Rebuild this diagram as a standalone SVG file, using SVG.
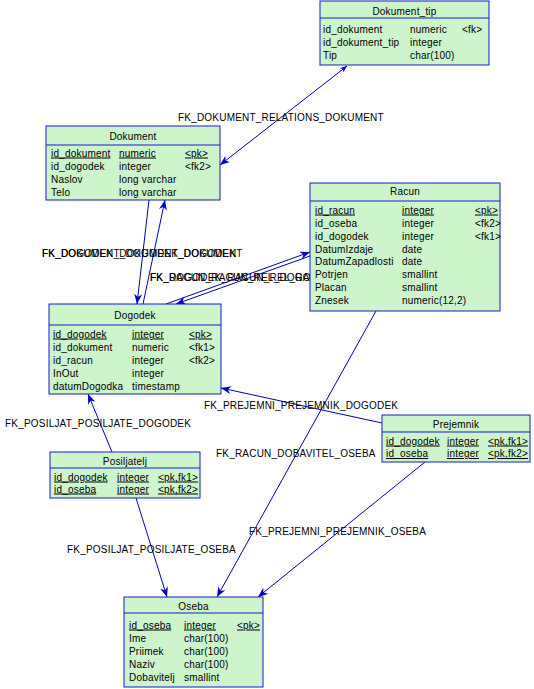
<svg xmlns="http://www.w3.org/2000/svg" width="534" height="689" viewBox="0 0 534 689">
<style>
text{font-family:"Liberation Sans",Arial,sans-serif;font-size:10px;letter-spacing:0.2px;fill:#000}
.box{fill:#ccf5cc;stroke:#1a1acc;stroke-width:1}
.sep{stroke:#1a1acc;stroke-width:1}
.t{text-anchor:middle}
.u{text-decoration:underline}
.c{stroke:#0000a8;stroke-width:1;fill:none}
</style>
<defs>
<marker id="ah" viewBox="0 0 10 8" refX="10" refY="4" markerWidth="10" markerHeight="8" markerUnits="userSpaceOnUse" orient="auto">
<path d="M0,0 L10,4 L0,8 L3,4 Z" fill="#0000c8"/>
</marker>
<marker id="as" viewBox="0 0 10 8" refX="0" refY="4" markerWidth="7" markerHeight="6" markerUnits="userSpaceOnUse" orient="auto">
<path d="M10,0 L0,4 L10,8 L7,4 Z" fill="#0000c8"/>
</marker>
</defs>
<rect width="534" height="689" fill="#fff"/>
<g id="connectors">
<line class="c" x1="347" y1="66" x2="220" y2="165" marker-start="url(#as)" marker-end="url(#ah)"/>
<line class="c" x1="149" y1="200" x2="137" y2="304" marker-end="url(#ah)"/>
<line class="c" x1="143" y1="304" x2="165" y2="200" marker-end="url(#ah)"/>
<line class="c" x1="166" y1="304" x2="310" y2="252" marker-end="url(#ah)"/>
<line class="c" x1="310" y1="256" x2="176" y2="304" marker-end="url(#ah)"/>
<line class="c" x1="382" y1="423" x2="221" y2="388" marker-end="url(#ah)"/>
<line class="c" x1="112" y1="452" x2="88" y2="394" marker-end="url(#ah)"/>
<line class="c" x1="376" y1="311" x2="217" y2="597" marker-end="url(#ah)"/>
<line class="c" x1="425" y1="462" x2="258" y2="597" marker-end="url(#ah)"/>
<line class="c" x1="136" y1="498" x2="167" y2="597" marker-end="url(#ah)"/>
</g>
<g id="labels">
<text x="178" y="120.5">FK_DOKUMENT_RELATIONS_DOKUMENT</text>
<text x="42" y="256.5">FK_DOGODEK_DOKUMENT_DOKUMENT</text>
<text x="42" y="256.5">FK_DOKUMENT_DOGODEK_DOGODEK</text>
<text x="150" y="280.5">FK_RACUN_RACUN_REL_DOGODEK</text>
<text x="150" y="280.5">FK_DOGODEK_RACUN_REL_RACUN</text>
<text x="204" y="408.5">FK_PREJEMNI_PREJEMNIK_DOGODEK</text>
<text x="5" y="426.5">FK_POSILJAT_POSILJATE_DOGODEK</text>
<text x="216" y="456.5">FK_RACUN_DOBAVITEL_OSEBA</text>
<text x="249" y="534.5">FK_PREJEMNI_PREJEMNIK_OSEBA</text>
<text x="67" y="552.5">FK_POSILJAT_POSILJATE_OSEBA</text>
</g>
<g id="Dokument_tip">
<rect class="box" x="320" y="1" width="169" height="64"/>
<line class="sep" x1="320" y1="18" x2="489" y2="18"/>
<text class="t" x="404.5" y="14.5">Dokument_tip</text>
<text x="323" y="32.5">id_dokument</text><text x="410" y="32.5">numeric</text><text x="462" y="32.5">&lt;fk&gt;</text>
<text x="323" y="45.5">id_dokument_tip</text><text x="410" y="45.5">integer</text>
<text x="323" y="58.5">Tip</text><text x="410" y="58.5">char(100)</text>
</g>
<g id="Dokument">
<rect class="box" x="46" y="126" width="174" height="74"/>
<line class="sep" x1="46" y1="145" x2="220" y2="145"/>
<text class="t" x="133" y="139.5">Dokument</text>
<text class="u" x="51" y="156.5">id_dokument</text><text class="u" x="119" y="156.5">numeric</text><text class="u" x="185" y="156.5">&lt;pk&gt;</text>
<text x="51" y="169.5">id_dogodek</text><text x="119" y="169.5">integer</text><text x="185" y="169.5">&lt;fk2&gt;</text>
<text x="51" y="182.5">Naslov</text><text x="119" y="182.5">long varchar</text>
<text x="51" y="195.5">Telo</text><text x="119" y="195.5">long varchar</text>
</g>
<g id="Racun">
<rect class="box" x="310" y="183" width="190" height="128"/>
<line class="sep" x1="310" y1="201" x2="500" y2="201"/>
<text class="t" x="405" y="194.5">Racun</text>
<text class="u" x="315" y="213.5">id_racun</text><text class="u" x="402" y="213.5">integer</text><text class="u" x="475" y="213.5">&lt;pk&gt;</text>
<text x="315" y="226.5">id_oseba</text><text x="402" y="226.5">integer</text><text x="475" y="226.5">&lt;fk2&gt;</text>
<text x="315" y="239.5">id_dogodek</text><text x="402" y="239.5">integer</text><text x="475" y="239.5">&lt;fk1&gt;</text>
<text x="315" y="252.5">DatumIzdaje</text><text x="402" y="252.5">date</text>
<text x="315" y="264.5">DatumZapadlosti</text><text x="402" y="264.5">date</text>
<text x="315" y="277.5">Potrjen</text><text x="402" y="277.5">smallint</text>
<text x="315" y="290.5">Placan</text><text x="402" y="290.5">smallint</text>
<text x="315" y="303.5">Znesek</text><text x="402" y="303.5">numeric(12,2)</text>
</g>
<g id="Dogodek">
<rect class="box" x="49" y="304" width="172" height="90"/>
<line class="sep" x1="49" y1="325" x2="221" y2="325"/>
<text class="t" x="135" y="318.5">Dogodek</text>
<text class="u" x="53" y="337.5">id_dogodek</text><text class="u" x="132" y="337.5">integer</text><text class="u" x="189" y="337.5">&lt;pk&gt;</text>
<text x="53" y="350.5">id_dokument</text><text x="132" y="350.5">numeric</text><text x="189" y="350.5">&lt;fk1&gt;</text>
<text x="53" y="363.5">id_racun</text><text x="132" y="363.5">integer</text><text x="189" y="363.5">&lt;fk2&gt;</text>
<text x="53" y="376.5">InOut</text><text x="132" y="376.5">integer</text>
<text x="53" y="389.5">datumDogodka</text><text x="132" y="389.5">timestamp</text>
</g>
<g id="Prejemnik">
<rect class="box" x="382" y="415" width="148" height="47"/>
<line class="sep" x1="382" y1="432" x2="530" y2="432"/>
<text class="t" x="456" y="427.5">Prejemnik</text>
<text class="u" x="386" y="444.5">id_dogodek</text><text class="u" x="447" y="444.5">integer</text><text class="u" x="488" y="444.5">&lt;pk,fk1&gt;</text>
<text class="u" x="386" y="457">id_oseba</text><text class="u" x="447" y="457">integer</text><text class="u" x="488" y="457">&lt;pk,fk2&gt;</text>
</g>
<g id="Posiljatelj">
<rect class="box" x="50" y="452" width="150" height="46"/>
<line class="sep" x1="50" y1="468" x2="200" y2="468"/>
<text class="t" x="125" y="464.5">Posiljatelj</text>
<text class="u" x="54" y="480.5">id_dogodek</text><text class="u" x="117" y="480.5">integer</text><text class="u" x="158" y="480.5">&lt;pk,fk1&gt;</text>
<text class="u" x="54" y="492.5">id_oseba</text><text class="u" x="117" y="492.5">integer</text><text class="u" x="158" y="492.5">&lt;pk,fk2&gt;</text>
</g>
<g id="Oseba">
<rect class="box" x="124" y="597" width="139" height="90"/>
<line class="sep" x1="124" y1="613" x2="263" y2="613"/>
<text class="t" x="193.5" y="609.5">Oseba</text>
<text class="u" x="129" y="628.5">id_oseba</text><text class="u" x="184" y="628.5">integer</text><text class="u" x="237" y="628.5">&lt;pk&gt;</text>
<text x="129" y="641.5">Ime</text><text x="184" y="641.5">char(100)</text>
<text x="129" y="654.5">Priimek</text><text x="184" y="654.5">char(100)</text>
<text x="129" y="667.5">Naziv</text><text x="184" y="667.5">char(100)</text>
<text x="129" y="680.5">Dobavitelj</text><text x="184" y="680.5">smallint</text>
</g>
</svg>
